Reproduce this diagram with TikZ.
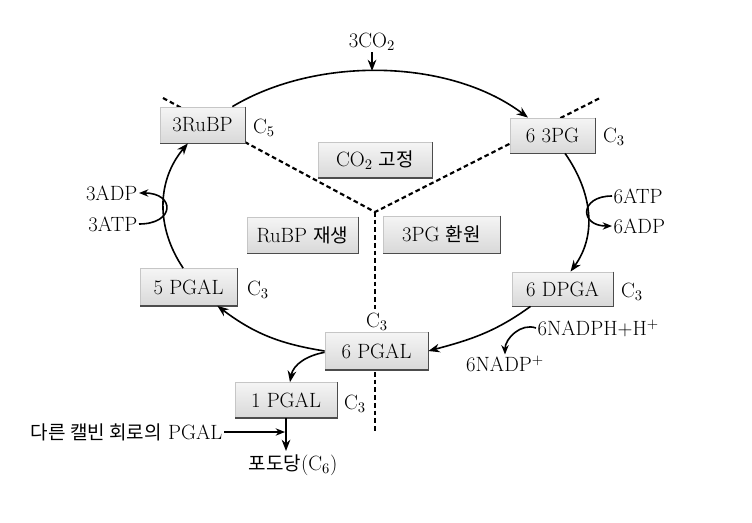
\documentclass[tikz,border=0pt]{standalone}
\usepackage{fontspec}
\newfontfamily\kr[Scale=0.92]{Noto Sans CJK KR}
\usetikzlibrary{arrows.meta,calc}
\begin{document}
\begin{tikzpicture}[x=0.75pt,y=-0.75pt,
  font=\fontsize{15.5}{17}\selectfont,
  box/.style={draw=gray!45, line width=0.6pt, top color=gray!8, bottom color=gray!30, inner sep=0pt},
  shadowline/.style={black!70, line width=1.3pt},
  flow/.style={line width=1.2pt, -{Stealth[length=8.5pt,width=6.5pt]}},
  side/.style={line width=1.2pt, -{Stealth[length=7pt,width=5.5pt]}},
  divide/.style={line width=1.6pt, dash pattern=on 3.5pt off 2.3pt},
  lbl/.style={inner sep=1pt}
]
\useasboundingbox (0,0) rectangle (752,522);

% dividing dashed lines
\coordinate (ctr) at (375,212);
\coordinate (ul) at (163,98);
\coordinate (ur) at (600,98);
\coordinate (vd1) at (375,310);
\coordinate (vd2) at (375,372);
\coordinate (vd3) at (375,432);
\draw[divide] (ul) -- (ctr) -- (ur);
\draw[divide] (ctr) -- (vd1);
\draw[divide] (vd2) -- (vd3);

% boxes
\node[box, minimum width=63.75pt, minimum height=27pt] (rubp) at (202.5,125) {3RuBP};
\node[box, minimum width=63.75pt, minimum height=26.25pt] (pg3) at (552.5,135.5) {6 3PG};
\node[box, minimum width=85.5pt, minimum height=26.25pt] (fix) at (375,160) {CO$_2$ {\kr 고정}};
\node[box, minimum width=83.25pt, minimum height=27pt] (regen) at (302.5,235) {RuBP {\kr 재생}};
\node[box, minimum width=87.75pt, minimum height=27.75pt] (red) at (441.5,234.5) {3PG {\kr 환원}};
\node[box, minimum width=72.75pt, minimum height=27.75pt] (pgal5) at (188.5,287) {5 PGAL};
\node[box, minimum width=75.75pt, minimum height=25.5pt] (dpga) at (562.5,289) {6 DPGA};
\node[box, minimum width=77.25pt, minimum height=27.75pt] (pgal6) at (376.5,351) {6 PGAL};
\node[box, minimum width=76.5pt, minimum height=26.25pt] (pgal1) at (286,400) {1 PGAL};
\foreach \n in {rubp,pg3,fix,regen,red,pgal5,dpga,pgal6,pgal1}
  \draw[shadowline] (\n.north east) -- (\n.south east) -- (\n.south west);

% carbon labels
\node[lbl] (c5) at (264,128) {C$_5$};
\node[lbl] (c3a) at (614,137) {C$_3$};
\node[lbl] (c3b) at (258,290) {C$_3$};
\node[lbl] (c3c) at (632,292) {C$_3$};
\node[lbl] (c3d) at (377,322) {C$_3$};
\node[lbl] (c3e) at (355,404) {C$_3$};

% other labels
\node[lbl] (co2) at (372,42) {3CO$_2$};
\coordinate (top) at (372,71);
\node[lbl, anchor=west] (atp6) at (612,196) {6ATP};
\node[lbl, anchor=west] (adp6) at (612,226) {6ADP};
\node[lbl, anchor=east] (adp3) at (139,193) {3ADP};
\node[lbl, anchor=east] (atp3) at (139,224) {3ATP};
\node[lbl, anchor=west] (nadph) at (536,328) {6NADPH+H$^+$};
\node[lbl] (nadp) at (505,364) {6NADP$^+$};
\node[lbl, anchor=east] (other) at (224,432) {{\kr 다른 캘빈 회로의} PGAL};
\node[lbl] (glu) at (293,465) {{\kr 포도당}(C$_6$)};
\coordinate (join) at (285,432);
\coordinate (gend) at (286,451);

% cycle arcs
\draw[flow] (co2.south) -- (top);
\draw[flow] ([xshift=-9.75pt]rubp.north east) to[out=31,in=143,looseness=0.85] ([xshift=-18.4pt]pg3.north);
\draw[flow] ([xshift=9.4pt]pg3.south) to[out=-55,in=54] ([xshift=6pt]dpga.north);
\draw[flow] ([xshift=-24pt]dpga.south) to[out=-144,in=15] (pgal6.east);
\draw[flow] (pgal6.west) to[out=171,in=-37] ([xshift=-15pt]pgal5.south east);
\draw[flow] ([xshift=-4pt]pgal5.north) to[out=124,in=-130] ([xshift=-11pt]rubp.south);
\draw[flow] ([yshift=-1pt]pgal6.west) to[out=190,in=80] ([xshift=3pt]pgal1.north);
\draw[flow] (pgal1.south) -- (gend);
\draw[side] (other.east) -- (join);

% side reactions
\draw[side] (atp6.west) to[out=180,in=180,looseness=2.8] (adp6.west);
\draw[side] (atp3.east) to[out=0,in=0,looseness=3] (adp3.east);
\draw[side] (nadph.west) to[out=160,in=90] (nadp.north);
\end{tikzpicture}
\end{document}
